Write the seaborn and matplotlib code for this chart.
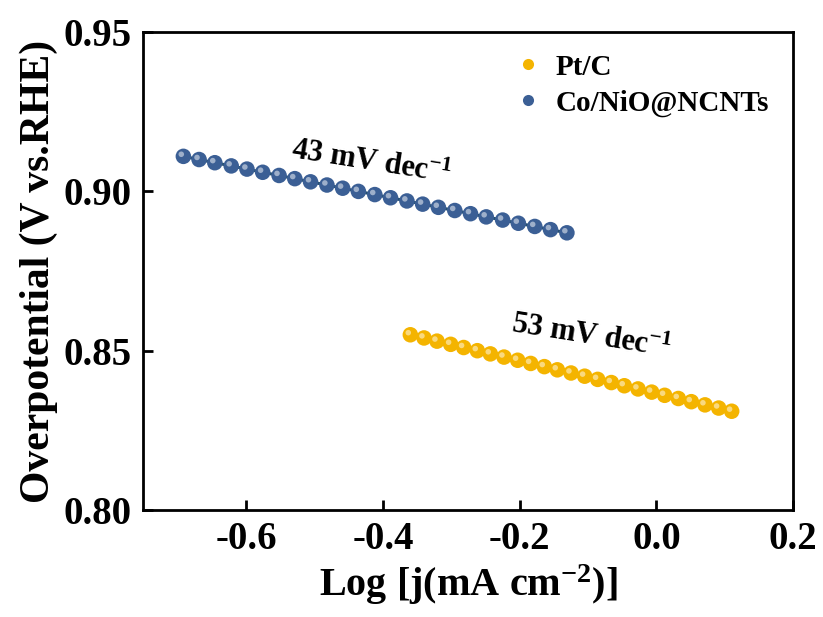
import numpy as np
import pandas as pd
import matplotlib
matplotlib.use("Agg")
import matplotlib.pyplot as plt
import matplotlib.transforms as mtransforms
from matplotlib.lines import Line2D
import seaborn as sns

# ---- data ----
co_x = [-0.692, -0.669, -0.646, -0.622, -0.599, -0.576, -0.552, -0.529, -0.506,
        -0.482, -0.459, -0.436, -0.412, -0.389, -0.365, -0.342, -0.319, -0.295,
        -0.272, -0.249, -0.225, -0.202, -0.178, -0.155, -0.131]
co_y = [0.911, 0.910, 0.909, 0.908, 0.907, 0.906, 0.905, 0.904, 0.903, 0.902,
        0.901, 0.900, 0.899, 0.898, 0.897, 0.896, 0.895, 0.894, 0.893, 0.892,
        0.891, 0.890, 0.889, 0.888, 0.887]
pt_x = [-0.360, -0.340, -0.321, -0.301, -0.282, -0.262, -0.243, -0.223, -0.203,
        -0.184, -0.164, -0.145, -0.125, -0.105, -0.086, -0.066, -0.047, -0.027,
        -0.007, 0.012, 0.032, 0.051, 0.071, 0.091, 0.110]
pt_y = [0.855, 0.854, 0.853, 0.852, 0.851, 0.850, 0.849, 0.848, 0.847, 0.846,
        0.845, 0.844, 0.843, 0.842, 0.841, 0.840, 0.839, 0.838, 0.837, 0.836,
        0.835, 0.834, 0.833, 0.832, 0.831]
series_names = ["Pt/C", "Co/NiO@NCNTs"]
slope_labels = ["53 mV dec$^{-1}$", "43 mV dec$^{-1}$"]
x_ticks = [-0.6, -0.4, -0.2, 0.0, 0.2]
y_ticks = [0.80, 0.85, 0.90, 0.95]

df = pd.concat([
    pd.DataFrame({"x": pt_x, "y": pt_y, "s": series_names[0]}),
    pd.DataFrame({"x": co_x, "y": co_y, "s": series_names[1]}),
])

sns.set_style("ticks")
plt.rcParams["font.family"] = ["Liberation Serif", "DejaVu Serif"]
plt.rcParams["font.weight"] = "bold"
for k in ["text.color", "axes.labelcolor", "xtick.color", "ytick.color", "axes.edgecolor"]:
    plt.rcParams[k] = "black"
plt.rcParams["mathtext.fontset"] = "custom"
plt.rcParams["mathtext.rm"] = "Liberation Serif:bold"
plt.rcParams["mathtext.it"] = "Liberation Serif:italic:bold"
plt.rcParams["mathtext.bf"] = "Liberation Serif:bold"
plt.rcParams["mathtext.default"] = "rm"

fig = plt.figure(figsize=(8.23, 6.17), dpi=100)
ax = fig.add_axes([0.1738, 0.1734, 0.79, 0.7746])

colors = {"Pt/C": "#F4B400", "Co/NiO@NCNTs": "#3B5F95"}
line_colors = {"Pt/C": "#D99A00", "Co/NiO@NCNTs": "#234F6E"}

for name in series_names:
    sub = df[df.s == name]
    sns.lineplot(data=sub, x="x", y="y", color=line_colors[name], lw=2.2,
                 ax=ax, legend=False, zorder=2, sort=False)
    sns.scatterplot(data=sub, x="x", y="y", color=colors[name], s=125,
                    edgecolor="none", ax=ax, legend=False, zorder=3)
    # highlight for a shaded sphere look
    tr = mtransforms.offset_copy(ax.transData, fig=fig, x=-1.5, y=1.5, units="points")
    ax.scatter(sub.x, sub.y, s=16, color="white", alpha=0.5, edgecolor="none",
               transform=tr, zorder=4)

# legend
handles = [Line2D([], [], ls="none", marker="o", ms=8, color=colors[n],
                  markeredgecolor="none") for n in series_names]
leg = ax.legend(handles, series_names, loc="upper left",
                bbox_to_anchor=(0.525, 1.01), frameon=False,
                prop={"family": "Liberation Serif", "weight": "bold", "size": 21},
                handletextpad=0.35, labelspacing=0.3, handlelength=1.2)

# slope annotations
ax.text(-0.096, 0.8543, slope_labels[0], rotation=-9, fontsize=22, fontweight="bold",
        ha="center", va="center", rotation_mode="anchor")
ax.text(-0.418, 0.909, slope_labels[1], rotation=-9, fontsize=22, fontweight="bold",
        ha="center", va="center", rotation_mode="anchor")

ax.set_xlim(-0.751, 0.2)
ax.set_ylim(0.80, 0.95)
ax.set_xticks(x_ticks)
ax.set_yticks(y_ticks)
ax.set_xticklabels([f"{v:.1f}" for v in x_ticks])
ax.set_yticklabels([f"{v:.2f}" for v in y_ticks])
ax.tick_params(direction="in", length=7, width=2, labelsize=28, pad=8,
               top=False, right=False)
for lab in ax.get_xticklabels() + ax.get_yticklabels():
    lab.set_fontweight("bold")
for sp in ax.spines.values():
    sp.set_visible(True)
    sp.set_linewidth(2)
    sp.set_color("black")

ax.set_xlabel("Log [j(mA cm$^{-2}$)]", fontsize=29, fontweight="bold", labelpad=3)
ax.set_ylabel("Overpotential (V vs.RHE)", fontsize=30, fontweight="bold", labelpad=4)

fig.savefig("out.png", dpi=100, facecolor="white")
